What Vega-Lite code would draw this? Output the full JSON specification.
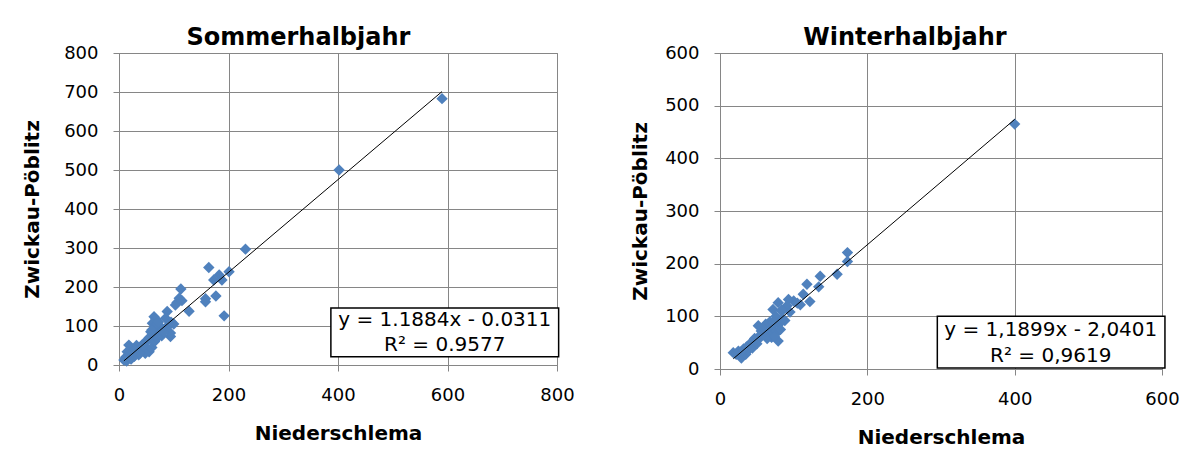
{
  "$schema": "https://vega.github.io/schema/vega-lite/v6.json",
  "background": "white",
  "padding": {"left": 22, "top": 25, "right": 5, "bottom": 5},
  "spacing": 55,
  "datasets": {
    "summer": [
      {"niederschlema":590,"zwickau":683},{"niederschlema":402,"zwickau":500},{"niederschlema":231,"zwickau":297},
      {"niederschlema":164,"zwickau":250},{"niederschlema":183,"zwickau":231},{"niederschlema":201,"zwickau":239},
      {"niederschlema":173,"zwickau":218},{"niederschlema":188,"zwickau":218},{"niederschlema":177,"zwickau":177},
      {"niederschlema":158,"zwickau":170},{"niederschlema":158,"zwickau":162},{"niederschlema":192,"zwickau":126},
      {"niederschlema":128,"zwickau":138},{"niederschlema":113,"zwickau":195},{"niederschlema":110,"zwickau":171},
      {"niederschlema":106,"zwickau":160},{"niederschlema":103,"zwickau":154},{"niederschlema":88,"zwickau":137},
      {"niederschlema":100,"zwickau":105},{"niederschlema":94,"zwickau":73},{"niederschlema":94,"zwickau":82},
      {"niederschlema":64,"zwickau":124},{"niederschlema":67,"zwickau":118},{"niederschlema":61,"zwickau":107},
      {"niederschlema":76,"zwickau":98},{"niederschlema":73,"zwickau":77},{"niederschlema":61,"zwickau":64},
      {"niederschlema":55,"zwickau":70},{"niederschlema":50,"zwickau":60},{"niederschlema":45,"zwickau":55},
      {"niederschlema":42,"zwickau":51},{"niederschlema":40,"zwickau":45},{"niederschlema":36,"zwickau":40},
      {"niederschlema":30,"zwickau":42},{"niederschlema":25,"zwickau":35},{"niederschlema":20,"zwickau":28},
      {"niederschlema":18,"zwickau":51},{"niederschlema":15,"zwickau":34},{"niederschlema":12,"zwickau":20},
      {"niederschlema":9,"zwickau":13},{"niederschlema":14,"zwickau":10},{"niederschlema":55,"zwickau":34},
      {"niederschlema":36,"zwickau":26},{"niederschlema":45,"zwickau":38},{"niederschlema":60,"zwickau":45},
      {"niederschlema":65,"zwickau":60},{"niederschlema":70,"zwickau":80},{"niederschlema":80,"zwickau":90},
      {"niederschlema":85,"zwickau":95},{"niederschlema":78,"zwickau":75},{"niederschlema":70,"zwickau":70},
      {"niederschlema":58,"zwickau":85},{"niederschlema":52,"zwickau":40},{"niederschlema":48,"zwickau":30},
      {"niederschlema":28,"zwickau":22},{"niederschlema":22,"zwickau":15},{"niederschlema":32,"zwickau":50},
      {"niederschlema":38,"zwickau":30},{"niederschlema":66,"zwickau":100},{"niederschlema":72,"zwickau":110},
      {"niederschlema":82,"zwickau":85},{"niederschlema":90,"zwickau":100},{"niederschlema":85,"zwickau":120},
      {"niederschlema":95,"zwickau":110},{"niederschlema":60,"zwickau":90},{"niederschlema":115,"zwickau":165},
      {"niederschlema":28,"zwickau":40},{"niederschlema":44,"zwickau":48}
    ],
    "winter": [
      {"niederschlema":400,"zwickau":465},{"niederschlema":173,"zwickau":221},{"niederschlema":173,"zwickau":204},
      {"niederschlema":159,"zwickau":180},{"niederschlema":136,"zwickau":176},{"niederschlema":134,"zwickau":156},
      {"niederschlema":118,"zwickau":161},{"niederschlema":113,"zwickau":142},{"niederschlema":122,"zwickau":128},
      {"niederschlema":109,"zwickau":122},{"niederschlema":100,"zwickau":129},{"niederschlema":93,"zwickau":132},
      {"niederschlema":79,"zwickau":126},{"niederschlema":84,"zwickau":110},{"niederschlema":72,"zwickau":113},
      {"niederschlema":88,"zwickau":92},{"niederschlema":76,"zwickau":100},{"niederschlema":91,"zwickau":120},
      {"niederschlema":84,"zwickau":112},{"niederschlema":79,"zwickau":53},{"niederschlema":77,"zwickau":69},
      {"niederschlema":59,"zwickau":66},{"niederschlema":52,"zwickau":82},{"niederschlema":48,"zwickau":53},
      {"niederschlema":41,"zwickau":47},{"niederschlema":30,"zwickau":30},{"niederschlema":25,"zwickau":34},
      {"niederschlema":18,"zwickau":31},{"niederschlema":29,"zwickau":21},{"niederschlema":35,"zwickau":28},
      {"niederschlema":38,"zwickau":35},{"niederschlema":45,"zwickau":45},{"niederschlema":50,"zwickau":55},
      {"niederschlema":55,"zwickau":60},{"niederschlema":60,"zwickau":70},{"niederschlema":65,"zwickau":75},
      {"niederschlema":70,"zwickau":80},{"niederschlema":68,"zwickau":90},{"niederschlema":62,"zwickau":85},
      {"niederschlema":56,"zwickau":72},{"niederschlema":53,"zwickau":62},{"niederschlema":47,"zwickau":58},
      {"niederschlema":42,"zwickau":50},{"niederschlema":36,"zwickau":42},{"niederschlema":32,"zwickau":38},
      {"niederschlema":28,"zwickau":32},{"niederschlema":22,"zwickau":28},{"niederschlema":70,"zwickau":60},
      {"niederschlema":75,"zwickau":70},{"niederschlema":80,"zwickau":85},{"niederschlema":85,"zwickau":95},
      {"niederschlema":58,"zwickau":78},{"niederschlema":66,"zwickau":65},{"niederschlema":72,"zwickau":88},
      {"niederschlema":95,"zwickau":108},{"niederschlema":105,"zwickau":125},{"niederschlema":64,"zwickau":58},
      {"niederschlema":44,"zwickau":40},{"niederschlema":50,"zwickau":48},{"niederschlema":82,"zwickau":75},
      {"niederschlema":74,"zwickau":62}
    ],
    "summerFit": [{"niederschlema":9,"zwickau":10.66},{"niederschlema":590,"zwickau":701.13}],
    "winterFit": [{"niederschlema":18,"zwickau":19.38},{"niederschlema":400,"zwickau":473.92}]
  },
  "config": {
    "font": "DejaVu Sans",
    "view": {"stroke": "#868686"},
    "axis": {
      "labelFont": "DejaVu Sans", "labelFontSize": 18, "labelColor": "black",
      "titleFont": "DejaVu Sans", "titleFontSize": 20, "titleFontWeight": "bold", "titleColor": "black",
      "gridColor": "#868686", "domainColor": "#868686", "tickColor": "#868686", "tickSize": 6,
      "labelFlush": false, "labelOverlap": false
    },
    "axisX": {"labelPadding": 15, "titlePadding": 19},
    "axisY": {"labelPadding": 15, "titlePadding": 21},
    "title": {"font": "DejaVu Sans", "fontSize": 24, "fontWeight": "bold", "color": "black", "offset": -6, "frame": "bounds"}
  },
  "hconcat": [
    {
      "width": 438, "height": 312,
      "title": "Sommerhalbjahr",
      "encoding": {
        "x": {"type": "quantitative", "scale": {"domain": [0, 800], "nice": false},
              "axis": {"values": [0, 200, 400, 600, 800], "title": "Niederschlema", "labelOverlap": false}},
        "y": {"type": "quantitative", "scale": {"domain": [0, 800], "nice": false},
              "axis": {"values": [0, 100, 200, 300, 400, 500, 600, 700, 800], "title": "Zwickau-Pöblitz", "labelOverlap": false}}
      },
      "layer": [
        {
          "data": {"name": "summer"},
          "mark": {"type": "point", "shape": "diamond", "filled": true, "size": 130, "color": "#4F81BD", "opacity": 1},
          "encoding": {
            "x": {"field": "niederschlema", "type": "quantitative"},
            "y": {"field": "zwickau", "type": "quantitative"}
          }
        },
        {
          "data": {"name": "summerFit"},
          "mark": {"type": "line", "color": "black", "strokeWidth": 1},
          "encoding": {
            "x": {"field": "niederschlema", "type": "quantitative"},
            "y": {"field": "zwickau", "type": "quantitative"}
          }
        },
        {
          "data": {"values": [{}]},
          "mark": {"type": "rect", "fill": "white", "stroke": "black", "strokeWidth": 1.5},
          "encoding": {
            "x": {"datum": 387, "type": "quantitative"},
            "x2": {"datum": 803},
            "y": {"datum": 146, "type": "quantitative"},
            "y2": {"datum": 21}
          }
        },
        {
          "data": {"values": [{}]},
          "mark": {"type": "text", "fontSize": 20, "font": "DejaVu Sans", "color": "black", "align": "center", "baseline": "middle",
                   "text": "y = 1.1884x - 0.0311"},
          "encoding": {
            "x": {"datum": 595, "type": "quantitative"},
            "y": {"datum": 115, "type": "quantitative"}
          }
        },
        {
          "data": {"values": [{}]},
          "mark": {"type": "text", "fontSize": 20, "font": "DejaVu Sans", "color": "black", "align": "center", "baseline": "middle",
                   "text": "R² = 0.9577"},
          "encoding": {
            "x": {"datum": 595, "type": "quantitative"},
            "y": {"datum": 51, "type": "quantitative"}
          }
        }
      ]
    },
    {
      "width": 442, "height": 316,
      "title": "Winterhalbjahr",
      "encoding": {
        "x": {"type": "quantitative", "scale": {"domain": [0, 600], "nice": false},
              "axis": {"values": [0, 200, 400, 600], "title": "Niederschlema", "labelOverlap": false}},
        "y": {"type": "quantitative", "scale": {"domain": [0, 600], "nice": false},
              "axis": {"values": [0, 100, 200, 300, 400, 500, 600], "title": "Zwickau-Pöblitz", "labelOverlap": false, "titlePadding": 14}}
      },
      "layer": [
        {
          "data": {"name": "winter"},
          "mark": {"type": "point", "shape": "diamond", "filled": true, "size": 130, "color": "#4F81BD", "opacity": 1},
          "encoding": {
            "x": {"field": "niederschlema", "type": "quantitative"},
            "y": {"field": "zwickau", "type": "quantitative"}
          }
        },
        {
          "data": {"name": "winterFit"},
          "mark": {"type": "line", "color": "black", "strokeWidth": 1},
          "encoding": {
            "x": {"field": "niederschlema", "type": "quantitative"},
            "y": {"field": "zwickau", "type": "quantitative"}
          }
        },
        {
          "data": {"values": [{}]},
          "mark": {"type": "rect", "fill": "white", "stroke": "black", "strokeWidth": 1.5},
          "encoding": {
            "x": {"datum": 295, "type": "quantitative"},
            "x2": {"datum": 604},
            "y": {"datum": 100, "type": "quantitative"},
            "y2": {"datum": 2}
          }
        },
        {
          "data": {"values": [{}]},
          "mark": {"type": "text", "fontSize": 20, "font": "DejaVu Sans", "color": "black", "align": "center", "baseline": "middle",
                   "text": "y = 1,1899x - 2,0401"},
          "encoding": {
            "x": {"datum": 449, "type": "quantitative"},
            "y": {"datum": 74, "type": "quantitative"}
          }
        },
        {
          "data": {"values": [{}]},
          "mark": {"type": "text", "fontSize": 20, "font": "DejaVu Sans", "color": "black", "align": "center", "baseline": "middle",
                   "text": "R² = 0,9619"},
          "encoding": {
            "x": {"datum": 449, "type": "quantitative"},
            "y": {"datum": 25, "type": "quantitative"}
          }
        }
      ]
    }
  ]
}
